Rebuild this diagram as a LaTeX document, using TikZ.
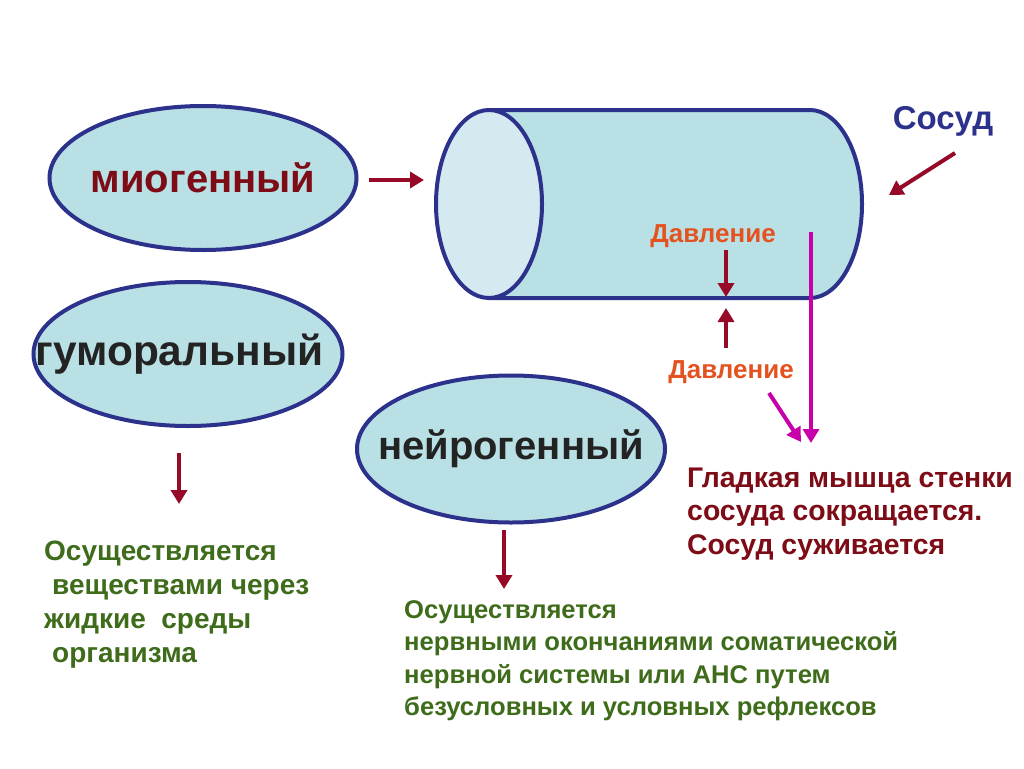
\documentclass[tikz,border=0pt]{standalone}
\usepackage{fontspec}
\setmainfont{Liberation Sans}
\usetikzlibrary{arrows.meta,shapes.geometric}
\definecolor{edgeblue}{RGB}{44,50,140}
\definecolor{bodyfill}{RGB}{185,224,228}
\definecolor{facefill}{RGB}{213,234,240}
\definecolor{darkred}{RGB}{125,12,22}
\definecolor{arrred}{RGB}{150,10,40}
\definecolor{orangered}{RGB}{228,82,32}
\definecolor{magentac}{RGB}{200,0,170}
\definecolor{greent}{RGB}{62,108,26}
\definecolor{darktext}{RGB}{35,35,35}
\tikzset{
  ell/.style={ellipse, draw=edgeblue, fill=bodyfill, line width=4pt, inner sep=0pt},
  bigtxt/.style={font=\bfseries\fontsize{40}{40}\selectfont},
  redarrow/.style={draw=arrred, line width=4pt, -{Triangle[length=14pt,width=16pt]}},
  magarrow/.style={draw=magentac, line width=4pt, -{Triangle[length=14pt,width=16pt]}},
  greenline/.style={anchor=base west, inner sep=0pt, text=greent, font=\bfseries\fontsize{28}{28}\selectfont},
  greenrline/.style={anchor=base west, inner sep=0pt, text=greent, font=\bfseries\fontsize{25.6}{25.6}\selectfont},
  redline/.style={anchor=base west, inner sep=0pt, text=darkred, font=\bfseries\fontsize{28.4}{28.4}\selectfont},
  presslbl/.style={text=orangered, inner sep=0pt, font=\bfseries\fontsize{26}{26}\selectfont}
}
\begin{document}
\begin{tikzpicture}[x=1pt,y=-1pt]
\useasboundingbox[fill=white] (0,0) rectangle (1024,768);
% ellipses
\node[ell, minimum width=307pt, minimum height=144pt, text=darkred, bigtxt] (mio) at (203,178) {\makebox[0pt]{миогенный}};
\node[ell, minimum width=309pt, minimum height=144pt, text=darktext, font=\bfseries\fontsize{42.4}{42.4}\selectfont] (gum) at (188,354) {\makebox[0pt]{\hspace*{-17pt}гуморальный}};
\node[ell, minimum width=308pt, minimum height=147pt, text=darktext, bigtxt] (nei) at (511,449) {\makebox[0pt]{нейрогенный}};
% cylinder
\path[fill=bodyfill, draw=edgeblue, line width=4pt, line join=round]
  (489,110) -- (810,110) arc(90:-90:52pt and 94pt) -- (489,298) -- cycle;
\node[ellipse, draw=edgeblue, fill=facefill, line width=4pt, inner sep=0pt,
      minimum width=106pt, minimum height=188pt] (face) at (489,204) {};
% arrow myogenic -> vessel
\draw[redarrow] ([xshift=10pt]mio.east |- 0,180) -- ([xshift=-10pt]face.west |- 0,180);
% Сосуд
\node[text=edgeblue, inner sep=0pt, font=\bfseries\fontsize{33}{33}\selectfont] (sosud) at (943,121) {Сосуд};
\coordinate (sosudtail) at (955,153);
\coordinate (sosudtip) at (889,195);
\draw[redarrow] (sosudtail) -- (sosudtip);
% pressure
\node[presslbl] (p1) at (713,236) {Давление};
\node[presslbl] (p2) at (731,372) {Давление};
\coordinate (wall1) at (726,297);
\coordinate (wall2) at (726,308);
\draw[redarrow] (726,250) -- (wall1);
\draw[redarrow] (726,348) -- (wall2);
% magenta
\coordinate (mtop) at (811,232);
\coordinate (mbot) at (811,443);
\draw[magarrow] (mtop) -- (mbot);
\coordinate (mtail) at (769,393);
\coordinate (mtip) at (801,442);
\draw[magarrow] (mtail) -- (mtip);
% right red text
\node[redline] (r1) at (687,487) {Гладкая мышца стенки};
\node[redline] (r2) at (687,520) {сосуда сокращается.};
\node[redline] (r3) at (687,554) {Сосуд суживается};
% humoral arrow and text
\coordinate (gtail) at (179,453);
\coordinate (gtip) at (179,504);
\draw[redarrow] (gtail) -- (gtip);
\node[greenline] (g1) at (44,560) {Осуществляется};
\node[greenline] (g2) at (52,594) {веществами через};
\node[greenline] (g3) at (44,628) {жидкие\ \ среды};
\node[greenline] (g4) at (52,662) {организма};
% neurogenic arrow and text
\coordinate (ntail) at (504,530);
\coordinate (ntip) at (504,589);
\draw[redarrow] (ntail) -- (ntip);
\node[greenrline] (n1) at (404,618) {Осуществляется};
\node[greenrline] (n2) at (404,650) {нервными окончаниями соматической};
\node[greenrline] (n3) at (404,683) {нервной системы или АНС путем};
\node[greenrline] (n4) at (404,715) {безусловных и условных рефлексов};
\end{tikzpicture}
\end{document}
